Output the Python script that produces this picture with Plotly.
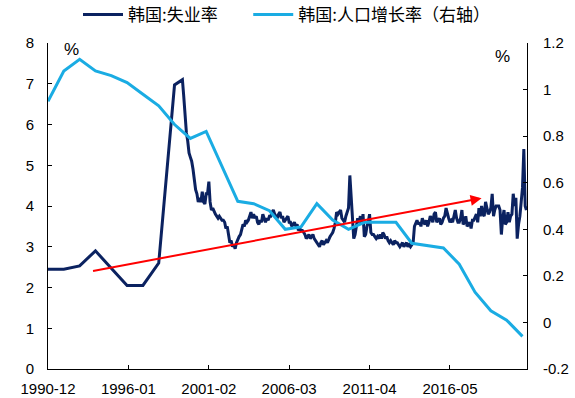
import pandas as pd
import plotly.graph_objects as go

# ---------------- data ----------------
# Unemployment rate (%), annual points (December) 1990-1998
unemp_annual_dates = ["1990-12-01", "1991-12-01", "1992-12-01", "1993-12-01", "1994-12-01",
                      "1995-12-01", "1996-12-01", "1997-12-01", "1998-12-01"]
unemp_annual = [2.45, 2.45, 2.53, 2.9, 2.47, 2.05, 2.05, 2.6, 6.97]

# Unemployment rate (%), monthly 1999-06 .. 2021-03
unemp_monthly_start = "1999-06-01"
unemp_monthly = [
    7.1, 6.7, 6.2, 5.8, 5.6, 5.3, 5.2,                                  # 1999 Jun-Dec
    5.1, 4.9, 4.6, 4.4, 4.3, 4.1, 4.2, 4.1, 4.35, 4.1, 4.05, 4.3,        # 2000
    4.3, 4.6, 4.1, 3.9, 3.95, 3.85, 3.8, 3.75, 3.7, 3.75, 3.7, 3.65,     # 2001
    3.65, 3.6, 3.45, 3.5, 3.3, 3.1, 3.15, 3.0, 3.05, 2.95, 3.1, 3.2,     # 2002
    3.25, 3.3, 3.4, 3.55, 3.5, 3.65, 3.6, 3.65, 3.75, 3.85, 3.7, 3.8,    # 2003
    3.7, 3.75, 3.6, 3.55, 3.65, 3.6, 3.8, 3.7, 3.6, 3.7, 3.65, 3.75,     # 2004
    3.75, 3.85, 3.9, 3.8, 3.75, 3.7, 3.8, 3.85, 3.7, 3.75, 3.6, 3.65,    # 2005
    3.7, 3.75, 3.6, 3.6, 3.5, 3.55, 3.6, 3.5, 3.55, 3.4, 3.45, 3.4,      # 2006
    3.4, 3.35, 3.3, 3.2, 3.25, 3.3, 3.2, 3.25, 3.3, 3.2, 3.15, 3.1,      # 2007
    3.05, 3.0, 3.1, 3.15, 3.05, 3.1, 3.15, 3.1, 3.2, 3.25, 3.3, 3.35,    # 2008
    3.45, 3.6, 3.85, 3.8, 3.85, 3.9, 3.7, 3.65, 3.6, 3.75, 3.85, 3.95,   # 2009
    4.75, 4.1, 3.7, 3.2, 3.3, 3.55, 3.7, 3.6, 3.75, 3.55, 3.8, 3.25,     # 2010
    3.3, 3.5, 3.6, 3.8, 3.35, 3.3, 3.3, 3.25, 3.2, 3.25, 3.2, 3.3,       # 2011
    3.2, 3.35, 3.3, 3.2, 3.25, 3.15, 3.1, 3.15, 3.1, 3.05, 3.15, 3.1,    # 2012
    3.1, 3.05, 3.0, 3.05, 3.1, 3.0, 3.05, 3.1, 3.0, 3.05, 3.0, 3.05,     # 2013
    3.1, 3.5, 3.6, 3.65, 3.55, 3.6, 3.5, 3.7, 3.6, 3.55, 3.65, 3.5,      # 2014
    3.6, 3.75, 3.7, 3.6, 3.8, 3.85, 3.6, 3.65, 3.7, 3.55, 3.6, 3.7,      # 2015
    3.75, 3.95, 3.8, 3.7, 3.6, 3.65, 3.6, 3.8, 3.9, 3.7, 3.6, 3.6,       # 2016
    3.7, 3.9, 3.55, 3.6, 3.75, 3.5, 3.55, 3.6, 3.45, 3.65, 3.65, 3.75,   # 2017
    3.8, 3.6, 3.95, 3.75, 4.0, 3.8, 3.75, 4.1, 3.9, 3.8, 3.85, 3.95,     # 2018
    4.3, 3.75, 3.9, 4.0, 4.0, 4.0, 3.9, 3.3, 3.7, 3.9, 3.55, 3.6,        # 2019
    3.85, 3.6, 3.75, 3.8, 4.3, 4.0, 4.2, 3.2, 3.55, 3.75, 4.1, 4.45,     # 2020
    5.4, 4.0, 3.9,                                                      # 2021 Jan-Mar
]

# Population growth rate (%), annual (December) 1990-2020, right axis
pop_start = "1990-12-01"
pop_growth = [0.95, 1.08, 1.13, 1.08, 1.06, 1.03, 0.98, 0.93, 0.85, 0.79,
              0.82, 0.67, 0.52, 0.51, 0.48, 0.40, 0.41, 0.51, 0.44, 0.40,
              0.43, 0.43, 0.43, 0.34, 0.33, 0.32, 0.25, 0.13, 0.05, 0.01,
              -0.06]

# Trend arrow (left-axis units)
arrow_start = ("1993-09-01", 2.40)
arrow_end = ("2018-05-01", 4.19)

x_tick_dates = ["1990-12-01", "1996-01-01", "2001-02-01", "2006-03-01", "2011-04-01", "2016-05-01"]
x_tick_text = ["1990-12", "1996-01", "2001-02", "2006-03", "2011-04", "2016-05"]
y_left_ticks = [0, 1, 2, 3, 4, 5, 6, 7, 8]
y_right_ticks = [-0.2, 0, 0.2, 0.4, 0.6, 0.8, 1.0, 1.2]
y_right_text = ["-0.2", "0", "0.2", "0.4", "0.6", "0.8", "1", "1.2"]

series_names = ["韩国:失业率\u3000\u2002", "韩国:人口增长率（右轴）"]

# ---------------- build ----------------
unemp_dates = list(pd.to_datetime(unemp_annual_dates)) + list(
    pd.date_range(unemp_monthly_start, periods=len(unemp_monthly), freq="MS"))
unemp_vals = unemp_annual + unemp_monthly
pop_dates = pd.date_range(pop_start, periods=len(pop_growth), freq="12MS")

NAVY = "#0B2260"
SKY = "#1AACE3"
FONT = "Liberation Sans, Arial, Noto Sans CJK SC, sans-serif"

L, R, T, B = 48, 48, 43, 29
W, H = 575, 398
plot_w = W - L - R
plot_h = H - T - B

fig = go.Figure()
fig.add_trace(go.Scatter(x=unemp_dates, y=unemp_vals, mode="lines", name=series_names[0],
                         line=dict(color=NAVY, width=3), yaxis="y"))
fig.add_trace(go.Scatter(x=pop_dates, y=pop_growth, mode="lines", name=series_names[1],
                         line=dict(color=SKY, width=3), yaxis="y2"))

fig.add_annotation(x=arrow_end[0], y=arrow_end[1], ax=arrow_start[0], ay=arrow_start[1],
                   xref="x", yref="y", axref="x", ayref="y", text="", showarrow=True,
                   arrowhead=2, arrowsize=1.1, arrowwidth=2, arrowcolor="#FF0000", standoff=0)

fig.add_annotation(x=(71 - L) / plot_w, y=(369 - 50) / plot_h, xref="paper", yref="paper",
                   xanchor="center", yanchor="middle",
                   text="%", showarrow=False, font=dict(size=17, color="#000000", family=FONT))
fig.add_annotation(x=(502 - L) / plot_w, y=(369 - 57) / plot_h, xref="paper", yref="paper",
                   xanchor="center", yanchor="middle",
                   text="%", showarrow=False, font=dict(size=17, color="#000000", family=FONT))

fig.update_layout(
    width=W, height=H,
    margin=dict(l=L, r=R, t=T, b=B, pad=0, autoexpand=False),
    paper_bgcolor="white", plot_bgcolor="white",
    font=dict(family=FONT, size=15, color="#000000"),
    showlegend=True,
    hovermode=False,
    legend=dict(orientation="h", x=0.5 - 1 / W, xanchor="center", y=1 - 15 / H, yanchor="middle",
                yref="container", xref="container",
                font=dict(size=17, family="Noto Sans CJK SC, sans-serif"),
                bgcolor="rgba(0,0,0,0)", itemwidth=40, tracegroupgap=0),
    xaxis=dict(type="date", range=["1990-12-01", "2021-03-15"], tickvals=x_tick_dates,
               ticktext=x_tick_text, ticks="inside", ticklen=4, tickcolor="#000000",
               showline=True, linecolor="#000000", linewidth=1, showgrid=False, zeroline=False,
               tickfont=dict(size=15), ticklabelstandoff=6),
    yaxis=dict(range=[0, 8], tickvals=y_left_ticks, ticks="inside", ticklen=4,
               tickcolor="#000000", showline=True, linecolor="#000000", linewidth=1,
               showgrid=False, zeroline=False, tickfont=dict(size=15), ticklabelstandoff=10),
    yaxis2=dict(range=[-0.2, 1.2], tickvals=y_right_ticks, ticktext=y_right_text,
                overlaying="y", side="right", ticks="inside", ticklen=4, tickcolor="#000000",
                showline=True, linecolor="#000000", linewidth=1, showgrid=False, zeroline=False,
                tickfont=dict(size=15), ticklabelstandoff=12),
)

fig.write_html("out.html", config={"displayModeBar": False},
               post_script="document.body.style.margin='0';document.body.style.overflow='hidden';")
